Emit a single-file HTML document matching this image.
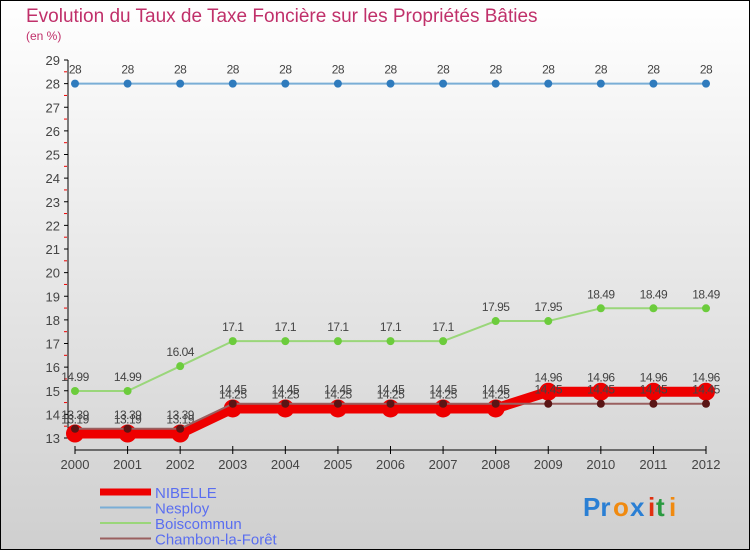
<!DOCTYPE html>
<html><head><meta charset="utf-8"><style>
body{margin:0;width:750px;height:550px;overflow:hidden;font-family:"Liberation Sans",sans-serif}
</style></head><body>
<svg id="chart" width="750" height="550" xmlns="http://www.w3.org/2000/svg">
<defs><linearGradient id="bg" x1="0" y1="0" x2="0" y2="1"><stop offset="0" stop-color="#ffffff"/><stop offset="1" stop-color="#cfcfcf"/></linearGradient></defs>
<rect x="0.5" y="0.5" width="749" height="549" fill="url(#bg)" stroke="#000"/>
<text x="26" y="22" font-size="19" fill="#c0306a">Evolution du Taux de Taxe Foncière sur les Propriétés Bâties</text>
<text x="26" y="40" font-size="12" fill="#c0306a">(en %)</text>
<g id="axes"></g><g id="series"></g><g id="legend"></g>
<g font-size="26" font-weight="bold">
<text x="583" y="516" fill="#2a7fd4">Pr</text><text x="613" y="516" fill="#f08a10">o</text><text x="630" y="516" fill="#2a7fd4">x</text><text x="648" y="516" fill="#e03010">i</text><text x="656" y="516" fill="#2a9a40">t</text><text x="669" y="516" fill="#f08a10">i</text>
</g>
</svg>
<script>
const years=[2000,2001,2002,2003,2004,2005,2006,2007,2008,2009,2010,2011,2012];
const nibelle=[13.19,13.19,13.19,14.25,14.25,14.25,14.25,14.25,14.25,14.96,14.96,14.96,14.96];
const nesploy=[28,28,28,28,28,28,28,28,28,28,28,28,28];
const boiscommun=[14.99,14.99,16.04,17.1,17.1,17.1,17.1,17.1,17.95,17.95,18.49,18.49,18.49];
const chambon=[13.39,13.39,13.39,14.45,14.45,14.45,14.45,14.45,14.45,14.45,14.45,14.45,14.45];
const yTicks=[13,14,15,16,17,18,19,20,21,22,23,24,25,26,27,28,29];
const NS="http://www.w3.org/2000/svg";
const X=i=>75+i*(706-75)/(years.length-1);
const Y=v=>438-(v-13)*(378/16);
function mk(p,t,a){const e=document.createElementNS(NS,t);for(const k in a)e.setAttribute(k,a[k]);p.appendChild(e);return e;}
const ax=document.getElementById('axes');
let l=mk(ax,'line',{x1:68,y1:Y(29),x2:68,y2:Y(13),stroke:'#000'});


yTicks.forEach(v=>{
 mk(ax,'line',{x1:64,y1:Y(v),x2:68,y2:Y(v),stroke:'#000'});
 if(v<29)mk(ax,'line',{x1:64,y1:Y(v+0.5),x2:67,y2:Y(v+0.5),stroke:'#e00'});
 const t=mk(ax,'text',{x:60,y:Y(v)+5,'font-size':13,'text-anchor':'end',fill:'#444'});t.textContent=v;
 
 
});
l=mk(ax,'line',{x1:75,y1:450,x2:706,y2:450,stroke:'#000'});


years.forEach((y,i)=>{
 mk(ax,'line',{x1:X(i),y1:446,x2:X(i),y2:454,stroke:'#000'});
 const t=mk(ax,'text',{x:X(i),y:469,'font-size':13,'text-anchor':'middle',fill:'#444'});t.textContent=y;
 
 
});
const sr=document.getElementById('series');
function draw(vals,color,w,r,dot,name){
 const g=mk(sr,'g',{});
 
 
 mk(g,'polyline',{points:vals.map((v,i)=>X(i)+','+Y(v)).join(' '),fill:'none',stroke:color,'stroke-width':w,'stroke-linejoin':'round'});
 vals.forEach((v,i)=>{
  const c=mk(g,'circle',{cx:X(i),cy:Y(v),r:r,fill:dot});
  
  
  const t=mk(g,'text',{x:X(i),y:Y(v)-10,'font-size':12,'text-anchor':'middle',fill:'#444','letter-spacing':'-0.5'});t.textContent=v;
 });
}
draw(nesploy,'#7aaed6',2,4,'#2f7bbd','series-nesploy');
draw(boiscommun,'#9ad67a',2,4,'#6ccc3c','series-boiscommun');
draw(nibelle,'#ee0000',10,9,'#ee0000','series-nibelle');
draw(chambon,'#9a6060',2,4,'#5a1515','series-chambon');
const lg=document.getElementById('legend');
[['NIBELLE','#ee0000',7],['Nesploy','#7aaed6',2],['Boiscommun','#9ad67a',2],['Chambon-la-Forêt','#9a6060',2]].forEach((d,i)=>{
 const y=492+i*15.5;
 const g=mk(lg,'g',{});
 
 
 mk(g,'line',{x1:100,y1:y,x2:151,y2:y,stroke:d[1],'stroke-width':d[2]});
 const t=mk(g,'text',{x:155,y:y+6,'font-size':15,fill:'#5a6ef0'});t.textContent=d[0];
});
</script>
</body></html>
